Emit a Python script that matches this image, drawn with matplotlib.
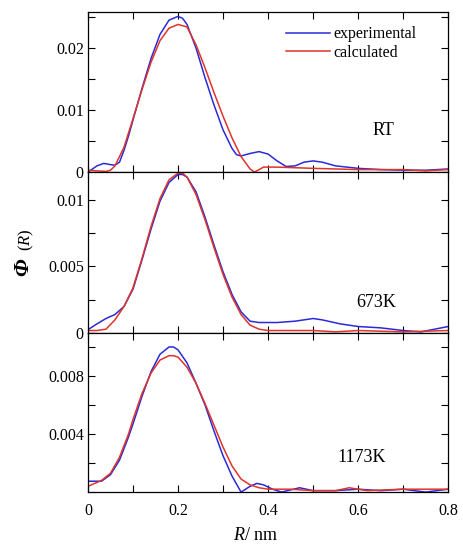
import numpy as np
import matplotlib as mpl
mpl.use('Agg')
import matplotlib.pyplot as plt
from matplotlib.ticker import MultipleLocator, FixedLocator, NullFormatter

mpl.rcParams.update({'font.family': 'Liberation Serif', 'font.size': 11,
                     'mathtext.fontset': 'custom', 'mathtext.it': 'Liberation Serif:italic',
                     'mathtext.rm': 'Liberation Serif', 'mathtext.bf': 'Liberation Serif:bold'})

# ---- data (R in nm) ----
rt_exp_r = [0, 0.02, 0.035, 0.05, 0.06, 0.07, 0.08, 0.09, 0.10, 0.12, 0.14, 0.16, 0.18, 0.20, 0.21,
            0.22, 0.24, 0.26, 0.28, 0.30, 0.32, 0.33, 0.34, 0.36, 0.38, 0.40, 0.42, 0.44, 0.46,
            0.48, 0.50, 0.52, 0.55, 0.60, 0.65, 0.70, 0.75, 0.80]
rt_exp = [0.0000, 0.0010, 0.0014, 0.0012, 0.0011, 0.0016, 0.0035, 0.0058, 0.0084, 0.0135, 0.0183,
          0.0222, 0.0245, 0.0251, 0.0248, 0.0238, 0.0200, 0.0152, 0.0108, 0.0068, 0.0038, 0.0028,
          0.0026, 0.0030, 0.0033, 0.0029, 0.0018, 0.0009, 0.0010, 0.0016, 0.0018, 0.0016, 0.0010,
          0.0006, 0.0004, 0.0003, 0.0003, 0.0005]
rt_cal_r = [0, 0.02, 0.04, 0.05, 0.06, 0.08, 0.10, 0.12, 0.14, 0.16, 0.18, 0.20, 0.22, 0.24, 0.26,
            0.28, 0.30, 0.32, 0.34, 0.36, 0.37, 0.38, 0.39, 0.42, 0.50, 0.60, 0.70, 0.75, 0.80]
rt_cal = [0.0003, 0.0002, 0.0001, 0.0003, 0.0010, 0.0040, 0.0086, 0.0133, 0.0177, 0.0212, 0.0232,
          0.0238, 0.0234, 0.0205, 0.0168, 0.0128, 0.0090, 0.0055, 0.0025, 0.0005, 0.0000, 0.0004,
          0.0008, 0.0008, 0.0006, 0.0004, 0.0004, 0.0002, 0.0004]

k673_exp_r = [0, 0.02, 0.04, 0.06, 0.08, 0.10, 0.12, 0.14, 0.16, 0.18, 0.20, 0.21, 0.22, 0.24, 0.26,
              0.28, 0.30, 0.32, 0.34, 0.36, 0.38, 0.42, 0.46, 0.50, 0.52, 0.56, 0.60, 0.65, 0.70,
              0.74, 0.77, 0.80]
k673_exp = [0.00026, 0.0007, 0.0011, 0.0014, 0.0020, 0.0033, 0.0055, 0.0078, 0.0099, 0.0113, 0.0119,
            0.0119, 0.0117, 0.0106, 0.0087, 0.0066, 0.0046, 0.0029, 0.0016, 0.0009, 0.0008, 0.0008,
            0.0009, 0.0011, 0.0010, 0.0007, 0.0005, 0.0004, 0.0002, 0.0001, 0.0003, 0.0005]
k673_cal_r = [0, 0.02, 0.04, 0.06, 0.08, 0.10, 0.12, 0.14, 0.16, 0.18, 0.20, 0.21, 0.22, 0.24, 0.26,
              0.28, 0.30, 0.32, 0.34, 0.36, 0.38, 0.40, 0.50, 0.55, 0.60, 0.70, 0.80]
k673_cal = [0.0002, 0.0002, 0.0003, 0.0010, 0.0020, 0.0034, 0.0056, 0.0080, 0.0101, 0.0115, 0.0120,
            0.0120, 0.0117, 0.0104, 0.0085, 0.0064, 0.0044, 0.0027, 0.0014, 0.0006, 0.0003, 0.0002,
            0.0002, 0.0001, 0.0002, 0.0001, 0.0002]

k1173_exp_r = [0, 0.03, 0.05, 0.07, 0.09, 0.10, 0.12, 0.14, 0.16, 0.18, 0.19, 0.20, 0.22, 0.24, 0.26,
               0.28, 0.30, 0.32, 0.34, 0.36, 0.375, 0.39, 0.41, 0.43, 0.47, 0.50, 0.55, 0.60, 0.65,
               0.70, 0.75, 0.80]
k1173_exp = [0.00075, 0.00075, 0.0012, 0.0022, 0.0038, 0.0047, 0.0066, 0.0083, 0.0095, 0.0100, 0.0100,
             0.0098, 0.0089, 0.0075, 0.0060, 0.0042, 0.0025, 0.0011, 0.0000, 0.0004, 0.0006, 0.0005,
             0.0002, 0.0000, 0.0003, 0.0001, 0.0001, 0.0002, 0.0001, 0.0002, 0.0000, 0.0002]
k1173_cal_r = [0, 0.03, 0.05, 0.07, 0.09, 0.10, 0.12, 0.14, 0.16, 0.18, 0.19, 0.20, 0.22, 0.24, 0.26,
               0.28, 0.30, 0.32, 0.34, 0.36, 0.38, 0.40, 0.45, 0.50, 0.55, 0.58, 0.62, 0.70, 0.80]
k1173_cal = [0.0004, 0.0008, 0.0013, 0.0024, 0.0040, 0.0050, 0.0068, 0.0082, 0.0091, 0.0094, 0.0094,
             0.0093, 0.0086, 0.0075, 0.0061, 0.0046, 0.0031, 0.0018, 0.0009, 0.0005, 0.0003, 0.0002,
             0.0002, 0.0001, 0.0001, 0.0003, 0.0001, 0.0002, 0.0002]

labels = ['RT', '673K', '1173K']
x_ticks = [0, 0.2, 0.4, 0.6, 0.8]
x_ticklabels = ['0', '0.2', '0.4', '0.6', '0.8']
BLUE, RED = '#2a2ad8', '#e0332a'

fig = plt.figure(figsize=(4.63, 5.48), dpi=100)
L, W = 0.190, 0.778
boxes = [(0.686, 0.292), (0.392, 0.294), (0.102, 0.290)]
axes = [fig.add_axes([L, b, W, h]) for b, h in boxes]

panels = [
    (rt_exp_r, rt_exp, rt_cal_r, rt_cal, (0, 0.0258), [0, 0.01, 0.02], ['0', '0.01', '0.02'], 0.005, (0.82, 0.26)),
    (k673_exp_r, k673_exp, k673_cal_r, k673_cal, (0, 0.01208), [0, 0.005, 0.01], ['0', '0.005', '0.01'], 0.0025, (0.80, 0.19)),
    (k1173_exp_r, k1173_exp, k1173_cal_r, k1173_cal, (0, 0.01095), [0.004, 0.008], ['0.004', '0.008'], 0.002, (0.76, 0.22)),
]

for i, (ax, p) in enumerate(zip(axes, panels)):
    xr, ye, xc, yc, ylim, yt, ytl, ymin, pos = p
    ax.plot(xr, ye, color=BLUE, lw=1.1, label='experimental')
    ax.plot(xc, yc, color=RED, lw=1.1, label='calculated')
    ax.set_xlim(0, 0.8)
    ax.set_ylim(*ylim)
    ax.xaxis.set_major_locator(FixedLocator(x_ticks))
    ax.xaxis.set_minor_locator(FixedLocator([0.1, 0.3, 0.5, 0.7]))
    ax.yaxis.set_major_locator(FixedLocator(yt))
    ax.set_yticklabels(ytl)
    ax.yaxis.set_minor_locator(MultipleLocator(ymin))
    ax.tick_params(which='both', direction='in', top=True, right=True, length=5, width=0.8,
                   labelsize=11.5, pad=3)
    if i < 2:
        ax.xaxis.set_major_formatter(NullFormatter())
    else:
        ax.set_xticklabels(x_ticklabels)
        ax.tick_params(axis='x', pad=8)
    for s in ax.spines.values():
        s.set_linewidth(0.9)
    ax.text(pos[0], pos[1], labels[i], transform=ax.transAxes, ha='center', va='center', fontsize=13)

lg = axes[0].legend(loc='upper right', bbox_to_anchor=(0.93, 0.95), frameon=False, fontsize=11.5,
                    handlelength=2.8, handletextpad=0.2, labelspacing=0.15, borderaxespad=0)

fig.text(0.050, 0.513, 'Φ', rotation=90, ha='center', va='center', fontsize=16,
         fontweight='bold', style='italic')
fig.text(0.056, 0.562, r'$(R)$', rotation=90, ha='center', va='center', fontsize=12)
fig.text(0.552, 0.022, r'$R$/ nm', ha='center', va='center', fontsize=13)

fig.savefig('out.png', dpi=100)
